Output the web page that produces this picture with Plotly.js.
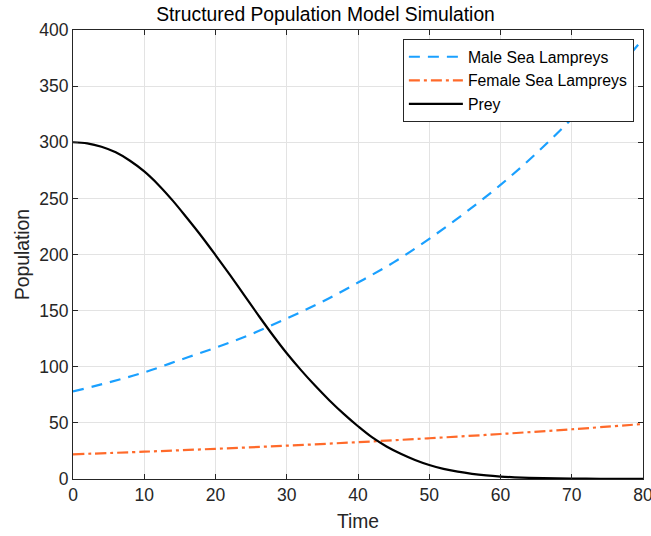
<!DOCTYPE html>
<html>
<head>
<meta charset="utf-8">
<script src="https://cdn.plot.ly/plotly-3.0.1.min.js"></script>
<style>html,body{margin:0;padding:0;background:#fff;}#chart{width:651px;height:536px;}</style>
</head>
<body>
<div id="chart"></div>
<script>
const maleTime = [0,5,10,15,20,25,30,35,40,45,50,55,60,65,70,75,80];
const maleValues = [78,86,95,106,117,129,143,158,175,193,214,237,262,290,321,355,392];
const femaleTime = [0,10,20,30,40,50,60,70,80];
const femaleValues = [22,24.3,26.9,29.7,32.8,36.3,40.1,44.3,49];
const preyTime = [0,2,4,6,8,10,12,14,16,18,20,22,24,26,28,30,32,34,36,38,40,42,44,46,48,50,52,54,56,58,60,62,64,66,68,70,72,74,76,78,80];
const preyValues = [300,299,296,291,283.5,274,262,248,232.5,216.5,199.5,182,164,146,128.5,112,97,83,70,58,47,37,29,22.5,17,12.5,9,6.5,4.6,3.2,2.2,1.5,1.0,0.7,0.5,0.35,0.25,0.17,0.12,0.08,0.05];
const xTicks = [0,10,20,30,40,50,60,70,80];
const yTicks = [0,50,100,150,200,250,300,350,400];

const font = "'Liberation Sans', Arial, Helvetica, sans-serif";
const traces = [
  {x: maleTime, y: maleValues, name: 'Male Sea Lampreys', mode: 'lines', line: {color: '#1AA0FF', width: 2.2, dash: '11px,8px', shape: 'spline'}},
  {x: femaleTime, y: femaleValues, name: 'Female Sea Lampreys', mode: 'lines', line: {color: '#FF6A2A', width: 2.2, dash: '11px,4px,3px,4px', shape: 'spline'}},
  {x: preyTime, y: preyValues, name: 'Prey', mode: 'lines', line: {color: '#000000', width: 2.2, shape: 'spline'}}
];
const axisCommon = {
  showgrid: true, gridcolor: '#e3e3e3', gridwidth: 1,
  showline: true, linecolor: '#262626', linewidth: 1, mirror: 'ticks',
  ticks: 'inside', ticklen: 5, tickcolor: '#262626', ticklabeloverflow: 'allow',
  zeroline: false, tickfont: {family: font, size: 17.5, color: '#262626'}
};
const layout = {
  width: 651, height: 536,
  margin: {l: 73, r: 8, t: 30, b: 57},
  paper_bgcolor: '#ffffff', plot_bgcolor: '#ffffff',
  title: {text: 'Structured Population Model Simulation', font: {family: font, size: 19.3, color: '#000'}, x: 0.5, xref: 'container', xanchor: 'center', yref: 'container', y: 0.986, yanchor: 'top'},
  xaxis: Object.assign({}, axisCommon, {range: [0, 80], tickvals: xTicks, ticktext: xTicks.map(String),
    title: {text: 'Time', font: {family: font, size: 19.3, color: '#262626'}, standoff: 10}}),
  yaxis: Object.assign({}, axisCommon, {range: [0, 400], tickvals: yTicks, ticktext: yTicks.map(String),
    title: {text: 'Population', font: {family: font, size: 19.3, color: '#262626'}, standoff: 4}}),
  showlegend: true,
  legend: {x: 0.984, y: 0.98, xanchor: 'right', yanchor: 'top', bgcolor: '#ffffff', bordercolor: '#262626', borderwidth: 1,
    font: {family: font, size: 15.8, color: '#000'}, tracegroupgap: 0, itemwidth: 54}
};
Plotly.newPlot('chart', traces, layout, {displayModeBar: false, staticPlot: true});
</script>
</body>
</html>
